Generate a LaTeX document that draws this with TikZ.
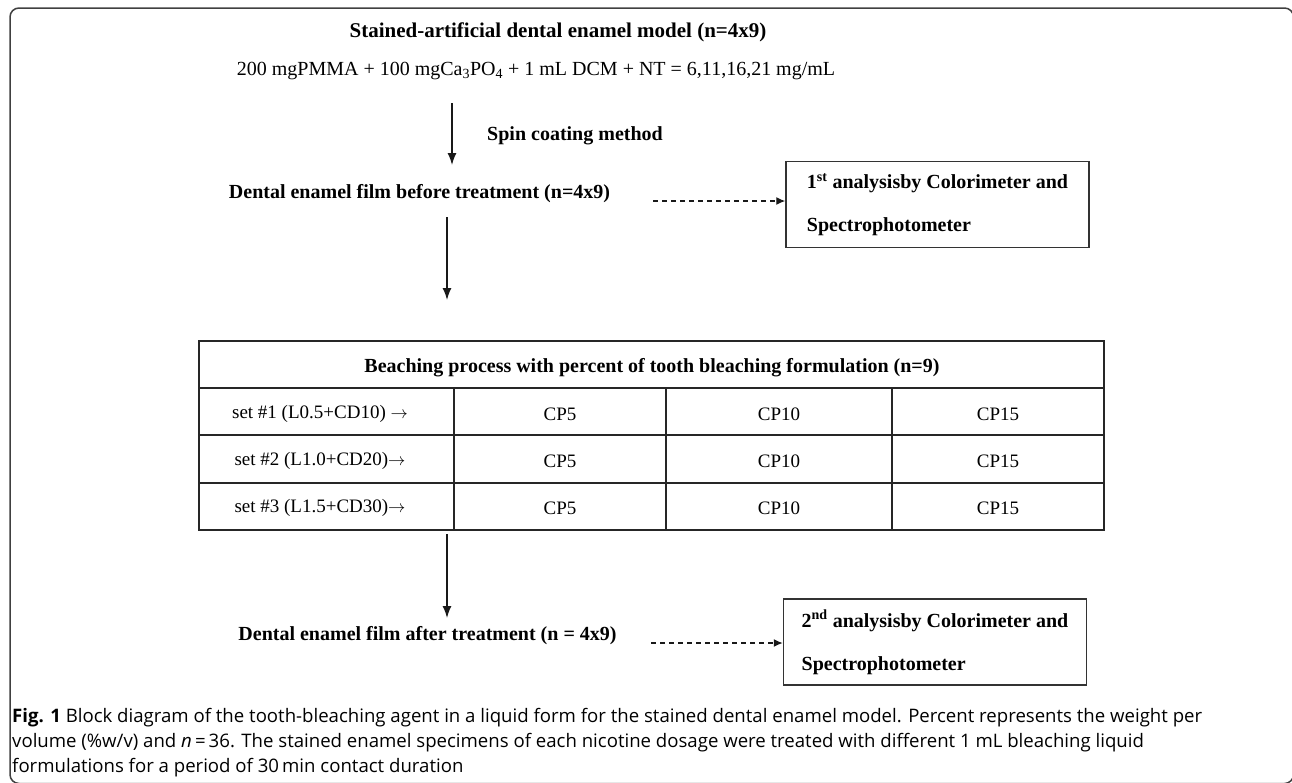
\documentclass[tikz,border=0pt]{standalone}
\usepackage{fontspec}
\setmainfont{Liberation Serif}
\newfontfamily\capfont{Open Sans}
\usetikzlibrary{arrows.meta}
\begin{document}
\begin{tikzpicture}[x=1pt,y=-1pt,
  lbl/.style={font=\bfseries\fontsize{20}{24}\selectfont, inner sep=0pt},
  reg/.style={font=\fontsize{20}{24}\selectfont, inner sep=0pt},
  cell/.style={font=\fontsize{19}{23}\selectfont, inner sep=0pt},
  arr/.style={line width=1.4pt, draw=black!90, -{Latex[length=12pt,width=9pt]}},
  darr/.style={line width=1.3pt, draw=black!90, dash pattern=on 5pt off 4pt, -{Latex[length=9pt,width=8pt]}},
  abox/.style={draw=black!80, line width=1.5pt, minimum width=303pt, minimum height=86pt,
    inner sep=0pt, align=left, font=\bfseries\fontsize{20}{43}\selectfont},
  tbl/.style={line width=2pt, draw=black!85},
  frame/.style={line width=1.5pt, draw=black!75, rounded corners=9pt},
  captxt/.style={anchor=base west, inner sep=0pt, font=\capfont\fontsize{18.6}{24}\selectfont}
]
\useasboundingbox (0,0) rectangle (1292,782);
\clip (0,0) rectangle (1292,782);
\draw[frame] (10,8) rectangle (1293.5,783.5);

% top texts
\node[lbl, font=\bfseries\fontsize{21}{25}\selectfont] (title) at (558,32) {Stained-artificial dental enamel model (n=4x9)};
\node[reg] (formula) at (536,71) {200 mgPMMA + 100 mgCa\textsubscript{3}PO\textsubscript{4} + 1 mL DCM + NT = 6,11,16,21 mg/mL};

\coordinate (a1s) at (452,103);
\coordinate (a1e) at (452,165);
\draw[arr] (a1s) -- (a1e);
\node[lbl] (spin) at (575,136) {Spin coating method};

\node[lbl] (before) at (419.5,194) {Dental enamel film before treatment (n=4x9)};
\node[abox] (box1) at (937.5,204.5) {1\textsuperscript{st} analysisby Colorimeter and\\Spectrophotometer};
\coordinate (d1s) at (653,201);
\draw[darr] (d1s) -- (d1s -| box1.west);

\coordinate (a2s) at (447,217);
\coordinate (a2e) at (447,300);
\draw[arr] (a2s) -- (a2e);

% table
\draw[tbl] (199,341) rectangle (1104,530);
\draw[tbl] (199,388) -- (1104,388);
\draw[tbl] (199,435) -- (1104,435);
\draw[tbl] (199,483) -- (1104,483);
\draw[tbl] (454,388) -- (454,530);
\draw[tbl] (666,388) -- (666,530);
\draw[tbl] (892,388) -- (892,530);
\node[lbl] (head) at (652,368) {Beaching process with percent of tooth bleaching formulation (n=9)};

\node[cell] (s1) at (320,414) {set \#1 (L0.5+CD10) $\rightarrow$};
\node[cell] (s2) at (320,461) {set \#2 (L1.0+CD20)$\rightarrow$};
\node[cell] (s3) at (320,508) {set \#3 (L1.5+CD30)$\rightarrow$};
\foreach \r/\y in {1/414,2/461,3/508}{
  \node[cell] (c5\r) at (560,\y) {CP5};
  \node[cell] (c10\r) at (779,\y) {CP10};
  \node[cell] (c15\r) at (998,\y) {CP15};
}

\coordinate (a3s) at (447,534);
\coordinate (a3e) at (447,618);
\draw[arr] (a3s) -- (a3e);

\node[lbl] (after) at (427.5,636) {Dental enamel film after treatment (n = 4x9)};
\node[abox] (box2) at (935,642) {2\textsuperscript{nd} analysisby Colorimeter and\\Spectrophotometer};
\coordinate (d2s) at (651,643);
\draw[darr] (d2s) -- (d2s -| box2.west);

% caption
\node[captxt] (cap1) at (12,722) {{\bfseries Fig. 1} Block diagram of the tooth-bleaching agent in a liquid form for the stained dental enamel model. Percent represents the weight per};
\node[captxt] (cap2) at (12,747) {volume (\%w/v) and \textit{n}\,=\,36. The stained enamel specimens of each nicotine dosage were treated with different 1 mL bleaching liquid};
\node[captxt] (cap3) at (12,772) {formulations for a period of 30\,min contact duration};
\end{tikzpicture}
\end{document}
